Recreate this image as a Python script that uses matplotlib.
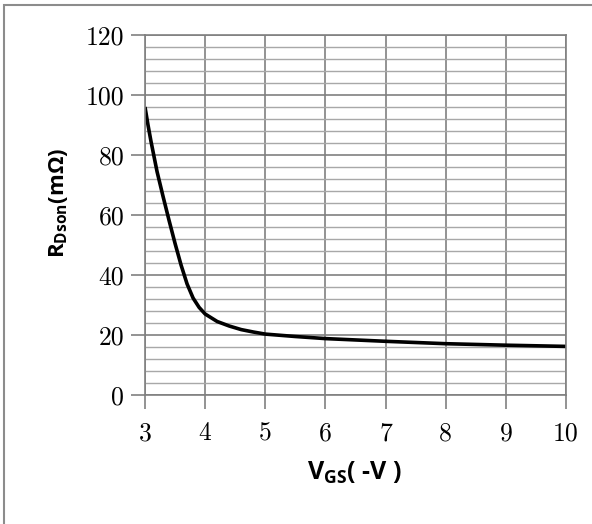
import matplotlib.pyplot as plt
from matplotlib.patches import Rectangle

# V_GS (-V) vs R_Dson (mOhm)
vgs = [3.0, 3.05, 3.1, 3.15, 3.2, 3.3, 3.4, 3.5, 3.6, 3.7, 3.8, 3.9, 4.0,
       4.2, 4.4, 4.6, 4.8, 5.0, 5.5, 6.0, 7.0, 8.0, 9.0, 10.0]
rdson = [96, 90, 84.5, 79.5, 74.5, 66.2, 58.2, 50.5, 43.3, 37, 32.3, 29.2, 27,
         24.5, 23, 21.8, 21, 20.3, 19.5, 18.8, 17.9, 17.1, 16.6, 16.2]

x_ticks = [3, 4, 5, 6, 7, 8, 9, 10]
y_ticks = [0, 20, 40, 60, 80, 100, 120]

fig = plt.figure(figsize=(5.92, 5.24), dpi=100)
ax = fig.add_axes([145/592, 1 - 395/524, 421/592, 360/524])

# outer frame around the whole picture
fig.patches.append(Rectangle((4/592, -0.05), 1.2, 1 - 5/524 + 0.05,
                             transform=fig.transFigure, fill=False,
                             edgecolor='#8c8c8c', linewidth=1.5))

ax.set_xlim(3, 10)
ax.set_ylim(0, 120)
ax.set_xticks(x_ticks)
ax.set_yticks(y_ticks)
ax.set_yticks(range(0, 121, 4), minor=True)

ax.grid(which='major', color='#808080', linewidth=1.2)
ax.grid(which='minor', axis='y', color='#a8a8a8', linewidth=1.0)
ax.set_axisbelow(True)

ax.tick_params(which='major', length=10, width=1.2, color='#808080',
               labelsize=18.5, pad=5)
ax.tick_params(which='minor', length=0)
ax.tick_params(axis='x', pad=9)
for lab in ax.get_xticklabels() + ax.get_yticklabels():
    lab.set_fontfamily('cmr10')

for s in ax.spines.values():
    s.set_color('#808080')
    s.set_linewidth(1.2)

ax.plot(vgs, rdson, color='black', linewidth=2.6, solid_capstyle='butt')

ax.set_xlabel(r'V$_{\mathregular{GS}}$( -V )', fontfamily='Open Sans',
              fontweight='bold', fontsize=18, va='center')
ax.set_ylabel(r'R$_{\mathregular{Dson}}$(mΩ)', fontfamily='Open Sans',
              fontweight='bold', fontsize=16, va='center')
ax.xaxis.set_label_coords((354 - 145) / 421, (395 - 473) / 360)
ax.yaxis.set_label_coords((58 - 145) / 421, (395 - 203) / 360)

fig.savefig('out.png', dpi=100)
